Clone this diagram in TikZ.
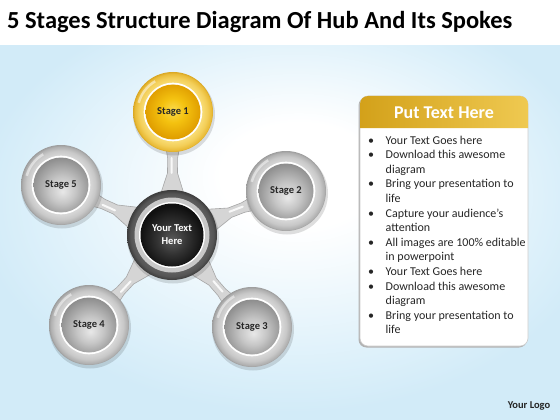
\documentclass[tikz,border=0pt]{standalone}
\usepackage{fontspec}
\setmainfont{Carlito}
\usetikzlibrary{calc}
\definecolor{bgblue}{HTML}{DCF0FA}
\definecolor{bgblueb}{HTML}{D2EBF8}
\definecolor{rgA}{HTML}{D6D6D6}
\definecolor{rgB}{HTML}{C8C8C8}
\definecolor{rgC}{HTML}{B0B0B0}
\definecolor{rgD}{HTML}{9C9C9C}
\definecolor{bgA}{HTML}{E8E8E8}
\definecolor{bgB}{HTML}{C6C6C6}
\definecolor{bgC}{HTML}{8C8C8C}
\definecolor{ryA}{HTML}{F8DB72}
\definecolor{ryB}{HTML}{F3CE58}
\definecolor{ryC}{HTML}{E9BB38}
\definecolor{ryD}{HTML}{D9A622}
\definecolor{byA}{HTML}{FBDA4C}
\definecolor{byB}{HTML}{F4C210}
\definecolor{byC}{HTML}{E09E00}
\definecolor{rdA}{HTML}{626262}
\definecolor{rdB}{HTML}{555555}
\definecolor{rdC}{HTML}{3C3C3C}
\definecolor{bdA}{HTML}{5A5A5A}
\definecolor{bdB}{HTML}{333333}
\definecolor{bdC}{HTML}{101010}
\definecolor{hdA}{HTML}{D3A11A}
\definecolor{hdB}{HTML}{EFC951}
\definecolor{txt}{HTML}{262626}
\definecolor{spokefill}{HTML}{D5D5D5}
\definecolor{spokeedge}{HTML}{A6A6A6}
\pgfdeclareradialshading{bgshade}{\pgfpoint{2bp}{9bp}}{color(0bp)=(white); color(7bp)=(white); color(23bp)=(bgblue); color(28bp)=(bgblueb); color(50bp)=(bgblueb)}
\pgfdeclareradialshading{ringgray}{\pgfpointorigin}{color(0bp)=(rgA); color(18.5bp)=(rgA); color(21.5bp)=(rgB); color(24bp)=(rgC); color(25bp)=(rgD); color(50bp)=(rgD)}
\pgfdeclareradialshading{ballgray}{\pgfpoint{1.5bp}{-6bp}}{color(0bp)=(bgA); color(12bp)=(bgB); color(28bp)=(bgC); color(50bp)=(bgC)}
\pgfdeclareradialshading{ringyel}{\pgfpointorigin}{color(0bp)=(ryA); color(18.5bp)=(ryA); color(21.5bp)=(ryB); color(24bp)=(ryC); color(25bp)=(ryD); color(50bp)=(ryD)}
\pgfdeclareradialshading{ballyel}{\pgfpoint{0bp}{2bp}}{color(0bp)=(byA); color(11bp)=(byB); color(25bp)=(byC); color(50bp)=(byC)}
\pgfdeclareradialshading{ringdark}{\pgfpointorigin}{color(0bp)=(rdA); color(20bp)=(rdA); color(23bp)=(rdB); color(25bp)=(rdC); color(50bp)=(rdC)}
\pgfdeclareradialshading{balldark}{\pgfpoint{0bp}{-4bp}}{color(0bp)=(bdA); color(12bp)=(bdB); color(25bp)=(bdC); color(50bp)=(bdC)}
\newcommand\myspoke[2]{%
  \path ($(#1)!40pt!(#2)$) coordinate (sa) ($(#1)!62pt!(#2)$) coordinate (sb)
        ($(#2)!46pt!(#1)$) coordinate (sc) ($(#2)!28pt!(#1)$) coordinate (sd);
  \filldraw[fill=spokefill, draw=spokeedge, line width=0.6pt]
    ($(sa)!12pt!90:(#2)$) -- ($(sb)!5pt!90:(#2)$) -- ($(sc)!5pt!90:(#2)$) -- ($(sd)!8pt!90:(#2)$)
    -- ($(sd)!8pt!-90:(#2)$) -- ($(sc)!5pt!-90:(#2)$) -- ($(sb)!5pt!-90:(#2)$) -- ($(sa)!12pt!-90:(#2)$) -- cycle;
  \draw[white, line width=2pt, opacity=0.85, line cap=round] ($(sb)!1pt!90:(#2)$) -- ($(sc)!1pt!90:(#2)$);
}
\tikzset{
  shadowc/.style={fill=black, opacity=0.13},
  stageball/.style={circle, minimum size=55pt, inner sep=0pt, shading=ballgray, text=txt,
    font=\bfseries\fontsize{10.5}{12}\selectfont},
  hubball/.style={circle, minimum size=63pt, inner sep=0pt, shading=balldark, text=white, align=center,
    font=\bfseries\fontsize{10.5}{13}\selectfont},
}
\begin{document}
\begin{tikzpicture}[x=1pt,y=-1pt]
\useasboundingbox (0,0) rectangle (560,420);
% background
\fill[white] (0,0) rectangle (560,420);
\shade[shading=bgshade] (0,46) rectangle (560,420);
\node[anchor=west, inner sep=0pt, font=\bfseries\fontsize{24.5}{28}\selectfont, text=black] (title) at (7,22) {5 Stages Structure Diagram Of Hub And Its Spokes};
% centres
\coordinate (h) at (172,235);
\coordinate (c1) at (173,112);
\coordinate (c2) at (286,191);
\coordinate (c3) at (252,327);
\coordinate (c4) at (89,325);
\coordinate (c5) at (61,185);
% spokes
\myspoke{h}{c1}
\myspoke{h}{c2}
\myspoke{h}{c3}
\myspoke{h}{c4}
\myspoke{h}{c5}
% stage rings
\foreach \c in {c2,c3,c4,c5}{
  \fill[shadowc] ($(\c)+(1,2.5)$) circle (41);
  \shade[shading=ringgray] (\c) circle (40);
  \draw[white, line width=2.5pt, opacity=0.5] (\c) ++(-120:35.5) arc (-120:-165:35.5);
  \fill[white] (\c) circle (29.3);
}
\fill[shadowc] ($(c1)+(1,2.5)$) circle (41);
\shade[shading=ringyel] (c1) circle (40);
\draw[white, line width=2.5pt, opacity=0.5] (c1) ++(-120:35.5) arc (-120:-165:35.5);
\fill[white] (c1) circle (29.3);
% hub rings
\fill[shadowc] ($(h)+(1,2.5)$) circle (46);
\shade[shading=ringdark] (h) circle (45);
\fill[rgB] (h) circle (37.5);
\fill[white] (h) circle (33);
% stage balls
\node[stageball, shading=ballyel] (s1) at (c1) {Stage 1};
\node[stageball] (s2) at (c2) {Stage 2};
\node[stageball] (s3) at (c3) {Stage 3};
\node[stageball] (s4) at (c4) {Stage 4};
\node[stageball] (s5) at (c5) {Stage 5};
\node[hubball] (hub) at (h) {Your Text\\Here};
% text panel
\fill[black!30, rounded corners=8pt] (358.5,97.5) rectangle (527,347.5);
\filldraw[fill=white, draw=black!20, line width=0.6pt, rounded corners=8pt] (360,96) rectangle (528,346);
\shade[left color=hdA, right color=hdB] [rounded corners=8pt] (360,128) -- (360,96) -- (528,96) [sharp corners] -- (528,128) -- cycle;
\node[text=white, font=\bfseries\fontsize{18}{20}\selectfont] (head) at (444,112.5) {Put Text Here};
\node[anchor=north west, align=left, inner sep=0pt, text=txt, font=\fontsize{12}{14.6}\selectfont] (list) at (368,135.5) {%
\makebox[17.5pt][l]{\textbullet}Your Text Goes here\\
\makebox[17.5pt][l]{\textbullet}Download this awesome\\
\hspace*{17.5pt}diagram\\
\makebox[17.5pt][l]{\textbullet}Bring your presentation to\\
\hspace*{17.5pt}life\\
\makebox[17.5pt][l]{\textbullet}Capture your audience’s\\
\hspace*{17.5pt}attention\\
\makebox[17.5pt][l]{\textbullet}All images are 100\% editable\\
\hspace*{17.5pt}in powerpoint\\
\makebox[17.5pt][l]{\textbullet}Your Text Goes here\\
\makebox[17.5pt][l]{\textbullet}Download this awesome\\
\hspace*{17.5pt}diagram\\
\makebox[17.5pt][l]{\textbullet}Bring your presentation to\\
\hspace*{17.5pt}life};
\node[text=txt, font=\bfseries\fontsize{10.5}{12}\selectfont] (logo) at (529,405.5) {Your Logo};
\end{tikzpicture}
\end{document}
